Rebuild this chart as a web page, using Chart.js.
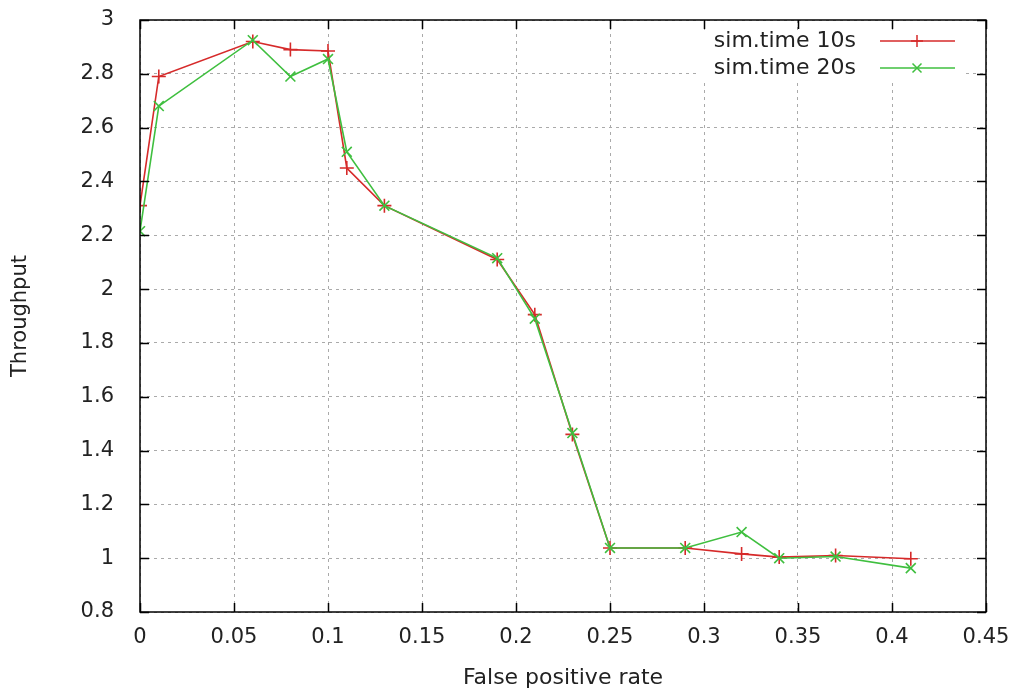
<!DOCTYPE html>
<html>
<head>
<meta charset="utf-8">
<script src="https://cdn.jsdelivr.net/npm/chart.js@4"></script>
<style>
  html, body { margin: 0; padding: 0; background: #fff; }
  #wrap { width: 1016px; height: 696px; }
</style>
</head>
<body>
<div id="wrap"><canvas id="c" width="1016" height="696"></canvas></div>
<script>
// ---- data ----
const falsePositiveRate = [0, 0.01, 0.06, 0.08, 0.10, 0.11, 0.13, 0.19, 0.21, 0.23, 0.25, 0.29, 0.32, 0.34, 0.37, 0.41];
const throughput10s = [2.31, 2.79, 2.92, 2.89, 2.885, 2.45, 2.31, 2.11, 1.905, 1.46, 1.038, 1.038, 1.016, 1.004, 1.01, 0.998];
const throughput20s = [2.215, 2.68, 2.925, 2.79, 2.855, 2.51, 2.31, 2.115, 1.89, 1.465, 1.038, 1.038, 1.097, 1.0, 1.006, 0.963];
const seriesLabels = ["sim.time 10s", "sim.time 20s"];
const xTicks = [0, 0.05, 0.1, 0.15, 0.2, 0.25, 0.3, 0.35, 0.4, 0.45];
const yTicks = [0.8, 1, 1.2, 1.4, 1.6, 1.8, 2, 2.2, 2.4, 2.6, 2.8, 3];
const xTitle = "False positive rate";
const yTitle = "Throughput";

const RED = '#d62a2a';
const GREEN = '#3fbf3f';
const FONT = '"DejaVu Sans", "Liberation Sans", sans-serif';

const toPts = ys => falsePositiveRate.map((x, i) => ({x, y: ys[i]}));

const framePlugin = {
  id: 'frame',
  afterDatasetsDraw(chart) {
    const {ctx, chartArea: a, scales} = chart;
    ctx.save();
    ctx.strokeStyle = '#000';
    ctx.lineWidth = 1.5;
    ctx.setLineDash([]);
    const T = 9;
    ctx.beginPath();
    xTicks.forEach(v => {
      const px = Math.round(scales.x.getPixelForValue(v)) + 0.5;
      ctx.moveTo(px, a.bottom); ctx.lineTo(px, a.bottom - T);
      ctx.moveTo(px, a.top); ctx.lineTo(px, a.top + T);
    });
    yTicks.forEach(v => {
      const py = Math.round(scales.y.getPixelForValue(v)) + 0.5;
      ctx.moveTo(a.left, py); ctx.lineTo(a.left + T, py);
      ctx.moveTo(a.right, py); ctx.lineTo(a.right - T, py);
    });
    ctx.stroke();
    ctx.strokeRect(a.left, a.top, a.right - a.left, a.bottom - a.top);
    ctx.restore();
  },
  afterDraw(chart) {
    // gnuplot-style key: text right-aligned, then sample line with marker
    const {ctx, chartArea: a} = chart;
    ctx.save();
    ctx.fillStyle = '#fff';
    ctx.fillRect(700, a.top + 10, a.right - 700 - 22, 52);
    ctx.font = '22px ' + FONT;
    ctx.textAlign = 'right';
    ctx.textBaseline = 'middle';
    const rows = [41, 68];
    chart.data.datasets.forEach((ds, i) => {
      const y = rows[i];
      ctx.fillStyle = '#222';
      ctx.fillText(ds.label, 856, y);
      ctx.strokeStyle = ds.borderColor;
      ctx.lineWidth = 1.5;
      ctx.beginPath();
      ctx.moveTo(880, y); ctx.lineTo(955, y);
      ctx.stroke();
      const cx = 917, r = 6;
      ctx.beginPath();
      if (ds.pointStyle === 'cross') {
        ctx.moveTo(cx, y - r); ctx.lineTo(cx, y + r);
        ctx.moveTo(cx - r, y); ctx.lineTo(cx + r, y);
      } else {
        const d = r * 0.75;
        ctx.moveTo(cx - d, y - d); ctx.lineTo(cx + d, y + d);
        ctx.moveTo(cx - d, y + d); ctx.lineTo(cx + d, y - d);
      }
      ctx.stroke();
    });
    ctx.restore();
  }
};

new Chart(document.getElementById('c'), {
  type: 'line',
  data: {
    datasets: [
      {
        label: seriesLabels[0], data: toPts(throughput10s), order: 1,
        borderColor: RED, backgroundColor: RED, borderWidth: 1.6,
        pointStyle: 'cross', pointRadius: 7, pointBorderWidth: 1.6,
        pointBorderColor: RED, tension: 0, fill: false
      },
      {
        label: seriesLabels[1], data: toPts(throughput20s), order: 0,
        borderColor: GREEN, backgroundColor: GREEN, borderWidth: 1.6,
        pointStyle: 'crossRot', pointRadius: 7, pointBorderWidth: 1.6,
        pointBorderColor: GREEN, tension: 0, fill: false
      }
    ]
  },
  options: {
    responsive: false,
    animation: false,
    events: [],
    layout: { padding: { top: 20, right: 30, left: 0, bottom: 0 } },
    plugins: { legend: { display: false }, tooltip: { enabled: false } },
    scales: {
      x: {
        type: 'linear', min: 0, max: 0.45,
        afterFit: s => { s.height = 84; s.paddingLeft = 0; s.paddingRight = 0; },
        afterBuildTicks: s => { s.ticks = xTicks.map(v => ({value: v})); },
        ticks: {
          font: { family: FONT, size: 21 }, color: '#222', padding: 13,
          maxRotation: 0, autoSkip: false,
          callback: v => String(+v.toFixed(2))
        },
        grid: { color: '#aaa', lineWidth: 1, drawTicks: false },
        border: { display: false, dash: [3, 4] },
        title: { display: true, text: xTitle, color: '#222',
                 font: { family: FONT, size: 22 }, padding: { top: 0, bottom: 5 } }
      },
      y: {
        type: 'linear', min: 0.8, max: 3,
        afterFit: s => { s.width = 140; s.paddingTop = 0; s.paddingBottom = 0; },
        afterBuildTicks: s => { s.ticks = yTicks.map(v => ({value: v})); },
        ticks: {
          font: { family: FONT, size: 21 }, color: '#222', padding: 26,
          autoSkip: false,
          callback: v => String(+v.toFixed(1))
        },
        grid: { color: '#aaa', lineWidth: 1, drawTicks: false },
        border: { display: false, dash: [3, 4] },
        title: { display: true, text: yTitle, color: '#222',
                 font: { family: FONT, size: 21 }, padding: { top: 8, bottom: 0 } }
      }
    }
  },
  plugins: [framePlugin]
});
</script>
</body>
</html>
